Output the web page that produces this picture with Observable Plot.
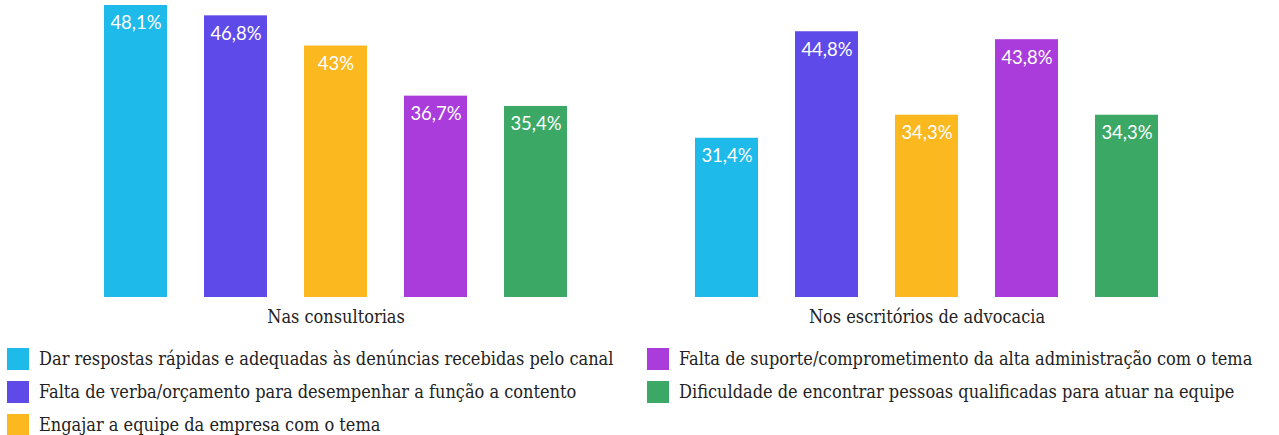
<!DOCTYPE html>
<html>
<head>
<meta charset="utf-8">
<script src="https://cdn.jsdelivr.net/npm/d3@7"></script>
<script src="https://cdn.jsdelivr.net/npm/@observablehq/plot@0.6"></script>
<style>
  html, body { margin: 0; padding: 0; background: #fff; }
  #chart svg { display: block; }
  .legend {
    display: grid;
    grid-template-columns: 640px 630px;
    grid-template-rows: repeat(3, 33px);
    grid-auto-flow: column;
    margin-left: 7px;
    margin-top: 7px;
    font-family: "DejaVu Serif Condensed", "DejaVu Serif", serif;
    font-stretch: condensed;
    font-size: 18px;
    color: #222;
  }
  .legend .item { display: flex; align-items: center; }
  .legend .sw { width: 22px; height: 22px; margin-right: 10px; flex: none; }
</style>
</head>
<body>
<div id="chart"></div>
<div class="legend" id="legend"></div>
<script>
const groups = ["Nas consultorias", "Nos escritórios de advocacia"];
const categories = [
  "Dar respostas rápidas e adequadas às denúncias recebidas pelo canal",
  "Falta de verba/orçamento para desempenhar a função a contento",
  "Engajar a equipe da empresa com o tema",
  "Falta de suporte/comprometimento da alta administração com o tema",
  "Dificuldade de encontrar pessoas qualificadas para atuar na equipe"
];
const colors = ["#1DBAEA", "#5E4AE8", "#FBB81F", "#A93CDB", "#3BA866"];
const consultorias = [48.1, 46.8, 43, 36.7, 35.4];
const escritorios = [31.4, 44.8, 34.3, 43.8, 34.3];
const yMin = 11.37, yMax = 48.73;

const data = [];
categories.forEach((c, i) => {
  data.push({group: groups[0], category: c, value: consultorias[i]});
  data.push({group: groups[1], category: c, value: escritorios[i]});
});
const fmt = v => String(v).replace(".", ",") + "%";

const chart = Plot.plot({
  width: 1279,
  height: 335,
  marginTop: 0,
  marginBottom: 38,
  marginLeft: 40,
  marginRight: 57,
  fx: {domain: groups, padding: 0, label: null},
  x: {domain: categories, paddingInner: 0.373, paddingOuter: 0.627, axis: null},
  y: {domain: [yMin, yMax], axis: null},
  color: {domain: categories, range: colors},
  style: {background: "white"},
  marks: [
    Plot.barY(data, {fx: "group", x: "category", y1: yMin, y2: "value", fill: "category"}),
    Plot.text(data, {fx: "group", x: "category", y: "value", text: d => fmt(d.value), dy: 18,
      fill: "white", fontSize: 18.5, fontFamily: "Lato"}),
    Plot.axisFx({anchor: "bottom", tickSize: 0, tickPadding: 13, fontSize: 18,
      fontFamily: "DejaVu Serif Condensed", fill: "#222", label: null})
  ]
});
document.getElementById("chart").appendChild(chart);

const legend = document.getElementById("legend");
categories.forEach((c, i) => {
  const item = document.createElement("div");
  item.className = "item";
  const sw = document.createElement("span");
  sw.className = "sw";
  sw.style.background = colors[i];
  const t = document.createElement("span");
  t.textContent = c;
  item.appendChild(sw);
  item.appendChild(t);
  legend.appendChild(item);
});
</script>
</body>
</html>
